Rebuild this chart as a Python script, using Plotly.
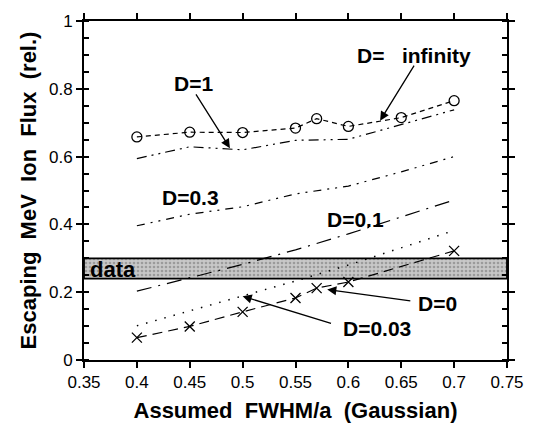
import plotly.graph_objects as go

fwhm = [0.4, 0.45, 0.5, 0.55, 0.6, 0.65, 0.7]
fwhm_inf = [0.4, 0.45, 0.5, 0.55, 0.57, 0.6, 0.65, 0.7]
d_inf = [0.658, 0.672, 0.671, 0.684, 0.712, 0.689, 0.715, 0.765]
d_1 = [0.594, 0.629, 0.620, 0.648, 0.651, 0.695, 0.738]
d_03 = [0.396, 0.430, 0.452, 0.490, 0.513, 0.555, 0.600]
d_01 = [0.203, 0.243, 0.282, 0.325, 0.372, 0.422, 0.472]
d_003 = [0.101, 0.145, 0.190, 0.233, 0.280, 0.330, 0.382]
fwhm_0 = [0.4, 0.45, 0.5, 0.55, 0.57, 0.6, 0.7]
d_0 = [0.066, 0.099, 0.142, 0.183, 0.212, 0.230, 0.322]
band = [0.24, 0.30]
xrange_ = [0.35, 0.75]
yrange_ = [0, 1]

FONT = "Liberation Sans, Arial, Helvetica, sans-serif"
fig = go.Figure()

# data band
fig.add_trace(go.Scatter(
    x=[xrange_[0], xrange_[1], xrange_[1], xrange_[0], xrange_[0]],
    y=[band[0], band[0], band[1], band[1], band[0]],
    mode="lines", fill="toself", fillcolor="#b4b4b4",
    fillpattern=dict(shape=".", fgcolor="#6e6e6e", bgcolor="#c8c8c8", size=4, solidity=0.35),
    line=dict(color="black", width=1.8), hoverinfo="skip", showlegend=False))

lw = 1.2
fig.add_trace(go.Scatter(x=fwhm_inf, y=d_inf, mode="lines+markers",
    line=dict(color="black", width=lw, dash="5px,4px"),
    marker=dict(symbol="circle-open", size=10, color="black", line=dict(width=1.3)),
    showlegend=False))
fig.add_trace(go.Scatter(x=fwhm, y=d_1, mode="lines",
    line=dict(color="black", width=lw, dash="10px,5px,2px,5px,2px,5px"), showlegend=False))
fig.add_trace(go.Scatter(x=fwhm, y=d_03, mode="lines",
    line=dict(color="black", width=lw, dash="8px,6px,2px,6px,2px,6px"), showlegend=False))
fig.add_trace(go.Scatter(x=fwhm, y=d_01, mode="lines",
    line=dict(color="black", width=lw, dash="15px,7px,2px,7px"), showlegend=False))
fig.add_trace(go.Scatter(x=fwhm, y=d_003, mode="lines",
    line=dict(color="black", width=1.5, dash="1.5px,8px"), showlegend=False))
fig.add_trace(go.Scatter(x=fwhm_0, y=d_0, mode="lines+markers",
    line=dict(color="black", width=lw, dash="10px,6px"),
    marker=dict(symbol="x-thin-open", size=10, color="black", line=dict(width=1.3, color="black")),
    showlegend=False))

def text(x, y, s, xanchor="center", size=21):
    fig.add_annotation(x=x, y=y, text=f"<b>{s}</b>", showarrow=False,
                       font=dict(family=FONT, size=size, color="black"), xanchor=xanchor)
def arrow(x0, y0, x1, y1):
    fig.add_annotation(x=x1, y=y1, ax=x0, ay=y0, axref="x", ayref="y", xref="x", yref="y",
                       text="", showarrow=True, arrowhead=2, arrowsize=1.4, arrowwidth=1.3,
                       arrowcolor="black")

text(0.454, 0.817, "D=1")
arrow(0.455, 0.788, 0.488, 0.625)
text(0.662, 0.899, "D=   infinity")
arrow(0.663, 0.873, 0.630, 0.706)
text(0.451, 0.478, "D=0.3")
text(0.607, 0.414, "D=0.1")
text(0.684, 0.168, "D=0")
arrow(0.660, 0.174, 0.580, 0.208)
text(0.627, 0.093, "D=0.03")
arrow(0.585, 0.107, 0.500, 0.188)
text(0.354, 0.268, "data", xanchor="left", size=22)

axis_common = dict(showline=True, linecolor="black", linewidth=2, mirror="ticks",
                   ticks="outside", tickwidth=2, tickcolor="black", showgrid=False,
                   zeroline=False, tickfont=dict(family=FONT, size=17, color="black"))
fig.update_xaxes(range=xrange_, ticklen=6,
                 tickvals=[0.35, 0.4, 0.45, 0.5, 0.55, 0.6, 0.65, 0.7, 0.75],
                 ticktext=["0.35", "0.4", "0.45", "0.5", "0.55", "0.6", "0.65", "0.7", "0.75"],
                 title=dict(text="<b>Assumed  FWHM/a  (Gaussian)</b>",
                            font=dict(family=FONT, size=22, color="black"), standoff=11),
                 **axis_common)
fig.update_yaxes(range=yrange_, tickvals=[0, 0.2, 0.4, 0.6, 0.8, 1],
                 ticktext=["0", "0.2", "0.4", "0.6", "0.8", "1"], ticklen=6,
                 minor=dict(dtick=0.05, ticks="inside", ticklen=5, tickwidth=2, tickcolor="black"),
                 title=dict(text="<b>Escaping  MeV  Ion  Flux  (rel.)</b>",
                            font=dict(family=FONT, size=22, color="black"), standoff=6),
                 **axis_common)

fig.update_layout(width=536, height=441, margin=dict(l=84, r=19, t=15, b=81),
                  plot_bgcolor="white", paper_bgcolor="white", showlegend=False)

fig.write_html("out.html")
